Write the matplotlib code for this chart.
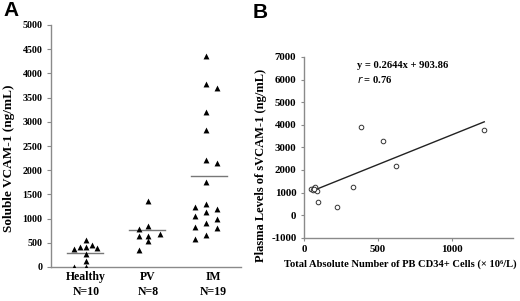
import matplotlib
matplotlib.use("Agg")
import matplotlib.pyplot as plt
import numpy as np

# ---- Panel A data ----
groups = ["Healthy\nN=10", "PV\nN=8", "IM\nN=19"]
healthy_vals = [0, 0, 116, 275, 378, 413, 405, 550, 455, 384]
healthy_off = [-0.2, 0, 0, 0, -0.2, -0.1, 0, 0, 0.09, 0.18]
pv_vals = [1355, 791, 853, 632, 647, 688, 529, 357]
pv_off = [0, -0.15, 0, -0.15, 0, 0.2, 0, -0.15]
im_vals = [4366, 3781, 3705, 3202, 2824, 2211, 2155, 1762, 1240, 1295, 1198,
           1060, 1136, 985, 826, 909, 800, 572, 667]
im_off = [-0.07, -0.07, 0.11, -0.07, -0.07, -0.07, 0.11, -0.07, -0.24, -0.07, 0.11,
          -0.24, -0.07, 0.11, -0.24, -0.07, 0.11, -0.24, -0.07]
group_means = [295, 756, 1874]
a_yticks = list(range(0, 5001, 500))

# ---- Panel B data ----
cd34 = [387, 534, 1216, 624, 333, 225, 92, 88, 50, 60, 70, 75, 65]
svcam = [3885, 3292, 3752, 2180, 1254, 357, 594, 1050, 1150, 1100, 1200, 1250, 1150]
fit_x = [65, 1216]
fit_y = [1095, 4130]
b_yticks = list(range(-1000, 7001, 1000))
b_xticks = [0, 500, 1000]
equation = "y = 0.2644x + 903.86"

serif = "Liberation Serif"
spine_col = "#8a8a8a"

fig = plt.figure(figsize=(5.2, 3.01), dpi=100)

# Panel A
axA = fig.add_axes([51/520, 1-267/301, 190/520, 242/301])
for i, (vals, offs) in enumerate([(healthy_vals, healthy_off), (pv_vals, pv_off), (im_vals, im_off)]):
    xc = i + 1
    axA.scatter([xc + o for o in offs], vals, marker="^", s=18, color="black", linewidths=0, zorder=3)
    axA.plot([xc - 0.31, xc + 0.27], [group_means[i]] * 2, color="#777777", lw=1.0, zorder=2)
axA.set_xlim(0.435, 3.5)
axA.set_ylim(0, 5000)
axA.set_yticks(a_yticks)
axA.set_yticklabels([str(t) for t in a_yticks], fontfamily=serif, fontweight="bold", fontsize=7.2)
axA.set_xticks([1, 2, 3.05])
axA.set_xticklabels(groups, fontfamily=serif, fontweight="bold", fontsize=8.5, linespacing=1.3)
axA.tick_params(axis="x", length=0, pad=3)
axA.tick_params(axis="y", length=3, width=0.8, color=spine_col, pad=3)
for s in ["top", "right"]:
    axA.spines[s].set_visible(False)
for s in ["left", "bottom"]:
    axA.spines[s].set_color(spine_col)
    axA.spines[s].set_linewidth(1.0)
axA.set_ylabel("Soluble VCAM-1 (ng/mL)", fontfamily=serif, fontweight="bold", fontsize=9.5)
axA.yaxis.set_label_coords(-36/190, (267-158)/242)

# Panel B
axB = fig.add_axes([304/520, 1-237.7/301, 209/520, 180.7/301])
axB.scatter(cd34, svcam, marker="o", s=11, facecolors="white", edgecolors="#333333", linewidths=0.7, zorder=3)
axB.plot(fit_x, fit_y, color="#222222", lw=1.0, zorder=2)
axB.set_xlim(0, 1410)
axB.set_ylim(-1000, 7000)
axB.set_yticks(b_yticks)
axB.set_yticklabels([str(t) for t in b_yticks], fontfamily=serif, fontweight="bold", fontsize=7.8)
axB.set_xticks(b_xticks)
axB.set_xticklabels([str(t) for t in b_xticks], fontfamily=serif, fontweight="bold", fontsize=7.8)
axB.tick_params(axis="both", length=2.5, width=0.8, color=spine_col, pad=3)
for s in ["top", "right"]:
    axB.spines[s].set_visible(False)
for s in ["left", "bottom"]:
    axB.spines[s].set_color(spine_col)
    axB.spines[s].set_linewidth(1.0)
axB.set_ylabel("Plasma Levels of sVCAM-1 (ng/mL)", fontfamily=serif, fontweight="bold", fontsize=9)
axB.yaxis.set_label_coords(-37/209, (237.7-165)/180.7)
axB.set_xlabel("Total Absolute Number of PB CD34+ Cells (\u00d7 10\u2076/L)", fontfamily=serif,
               fontweight="bold", fontsize=7.6)
axB.xaxis.set_label_coords((400-304)/209, -(259-237.7)/180.7)
axB.text(0.255, 0.955, equation, transform=axB.transAxes, fontfamily=serif, fontweight="bold",
         fontsize=7.6, va="center", ha="left")
axB.text(0.255, 0.875, "$\\mathbf{\\mathit{r}}$ = 0.76", transform=axB.transAxes, fontfamily=serif,
         fontweight="bold", fontsize=7.6, va="center", ha="left")

fig.text(3/520, 1-11/301, "A", fontfamily="Liberation Sans", fontweight="bold", fontsize=15, va="center", ha="left")
fig.text(253/520, 1-13/301, "B", fontfamily="Liberation Sans", fontweight="bold", fontsize=15, va="center", ha="left")

fig.savefig("out.png", dpi=100)
